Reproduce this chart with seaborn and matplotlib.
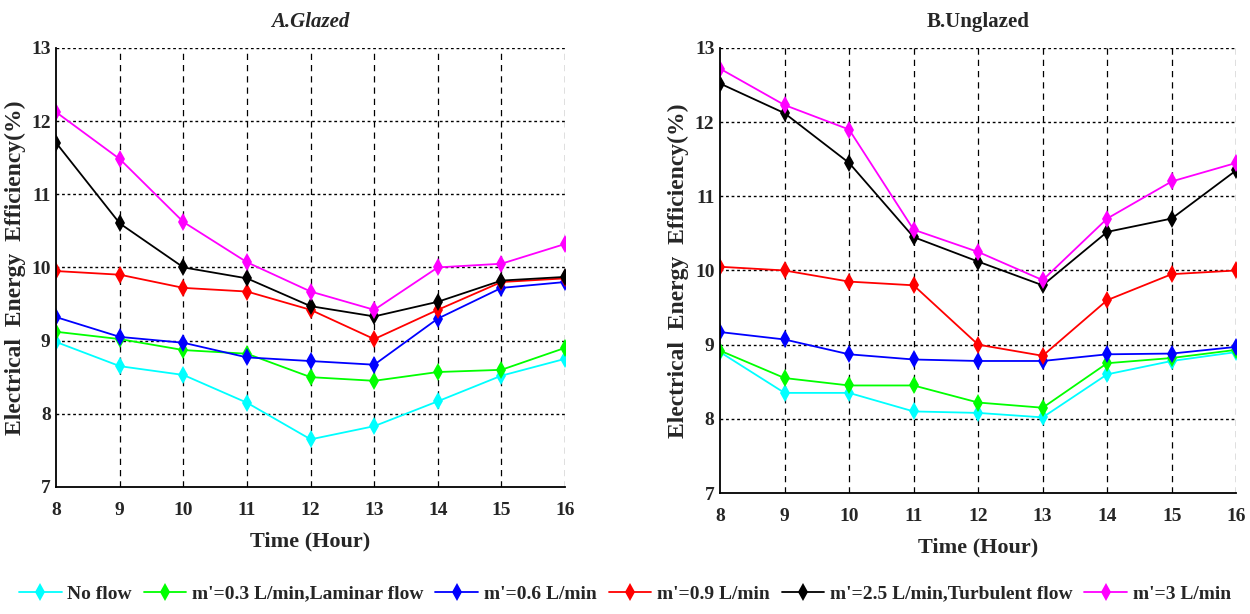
import matplotlib
matplotlib.use("Agg")
import matplotlib.pyplot as plt
import seaborn as sns
import pandas as pd

hours = [8, 9, 10, 11, 12, 13, 14, 15, 16]
series_names = ["No flow", "m'=0.3 L/min,Laminar flow", "m'=0.6 L/min",
                "m'=0.9 L/min", "m'=2.5 L/min,Turbulent flow", "m'=3 L/min"]
series_colors = ["cyan", "lime", "blue", "red", "black", "magenta"]

# A. Glazed
glazed_no_flow = [8.98, 8.65, 8.53, 8.15, 7.65, 7.83, 8.17, 8.52, 8.75]
glazed_m03 = [9.12, 9.02, 8.87, 8.82, 8.50, 8.45, 8.57, 8.60, 8.90]
glazed_m06 = [9.32, 9.05, 8.97, 8.77, 8.72, 8.67, 9.30, 9.72, 9.80]
glazed_m09 = [9.95, 9.90, 9.72, 9.67, 9.42, 9.02, 9.42, 9.80, 9.85]
glazed_m25 = [11.70, 10.60, 10.00, 9.85, 9.47, 9.33, 9.53, 9.82, 9.87]
glazed_m3 = [12.12, 11.48, 10.62, 10.07, 9.67, 9.42, 10.00, 10.05, 10.32]

# B. Unglazed
unglazed_no_flow = [8.90, 8.35, 8.35, 8.10, 8.08, 8.02, 8.60, 8.78, 8.90]
unglazed_m03 = [8.92, 8.55, 8.45, 8.45, 8.22, 8.15, 8.75, 8.82, 8.93]
unglazed_m06 = [9.17, 9.07, 8.87, 8.80, 8.78, 8.78, 8.87, 8.88, 8.97]
unglazed_m09 = [10.05, 10.00, 9.85, 9.80, 9.00, 8.85, 9.60, 9.95, 10.00]
unglazed_m25 = [12.52, 12.12, 11.45, 10.45, 10.12, 9.80, 10.52, 10.70, 11.35]
unglazed_m3 = [12.72, 12.23, 11.90, 10.55, 10.25, 9.87, 10.70, 11.20, 11.45]

yticks = [7, 8, 9, 10, 11, 12, 13]


def long_table(columns):
    df = pd.DataFrame(dict(zip(series_names, columns)), index=hours)
    df.index.name = "hour"
    return df.reset_index().melt(id_vars="hour", var_name="series", value_name="eff")


sns.set_style("white")
plt.rcParams["font.family"] = ["Liberation Serif", "DejaVu Serif"]
plt.rcParams["font.weight"] = "bold"

fig = plt.figure(figsize=(12.5, 6.14), dpi=100)
ax_a = fig.add_axes([0.045, 0.207, 0.407, 0.715])
ax_b = fig.add_axes([0.576, 0.197, 0.413, 0.725])

panels = [
    (ax_a, long_table([glazed_no_flow, glazed_m03, glazed_m06, glazed_m09, glazed_m25, glazed_m3]),
     "A.Glazed", "italic"),
    (ax_b, long_table([unglazed_no_flow, unglazed_m03, unglazed_m06, unglazed_m09, unglazed_m25, unglazed_m3]),
     "B.Unglazed", "normal"),
]

for ax, data, title, tstyle in panels:
    sns.lineplot(data=data, x="hour", y="eff", hue="series", style="series",
                 palette=dict(zip(series_names, series_colors)),
                 markers=["d"] * 6, dashes=False, markersize=9, linewidth=1.3,
                 markeredgewidth=0, ax=ax, legend=(ax is ax_a))
    ax.set_xlim(8, 16)
    ax.set_ylim(7, 13)
    ax.set_xticks(hours)
    ax.set_yticks(yticks)
    ax.grid(False)
    for y in yticks[1:]:
        ax.axhline(y, color="black", linestyle=(0, (2, 2)), linewidth=1, zorder=0)
    for x in hours[1:]:
        ax.axvline(x, color="black", linestyle=(0, (5, 4)), linewidth=0.9, zorder=0)
    for side in ["top", "right"]:
        ax.spines[side].set_visible(False)
    for side in ["left", "bottom"]:
        ax.spines[side].set_color("black")
        ax.spines[side].set_linewidth(1.3)
    ax.tick_params(axis="x", labelsize=14, length=0, pad=11)
    ax.tick_params(axis="y", labelsize=14, length=0, pad=4)
    ax.set_title(title, fontsize=15, fontweight="bold", style=tstyle, pad=15)
    ax.set_xlabel("Time (Hour)", fontsize=16, fontweight="bold", labelpad=9)
    ax.set_ylabel("Electrical  Energy  Efficiency(%)",
                  fontsize=17, fontweight="bold", labelpad=4)

handles, labels = ax_a.get_legend_handles_labels()
ax_a.get_legend().remove()
fig.legend(handles, labels, loc="lower center", ncol=6, frameon=False,
           bbox_to_anchor=(0.5, -0.01), fontsize=14, handlelength=2.2,
           columnspacing=0.6, handletextpad=0.3)

fig.savefig("out.png", dpi=100)
